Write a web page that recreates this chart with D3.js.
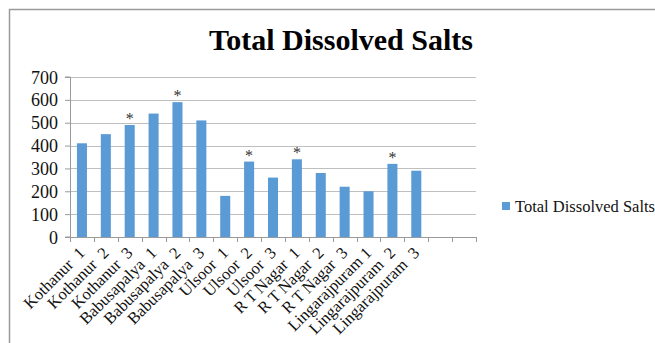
<!DOCTYPE html>
<html>
<head>
<meta charset="utf-8">
<script src="https://cdn.jsdelivr.net/npm/d3@7"></script>
<style>
  html, body { margin: 0; padding: 0; background: #fff; }
  svg { display: block; }
  svg text { font-family: "Liberation Serif", "Times New Roman", serif !important; }
</style>
</head>
<body>
<svg id="chart" width="655" height="343"></svg>
<script>
// Sampling sites (two trailing empty slots on the category axis)
const categories = [
  "Kothanur  1", "Kothanur  2", "Kothanur  3",
  "Babusapalya  1", "Babusapalya  2", "Babusapalya  3",
  "Ulsoor  1", "Ulsoor  2", "Ulsoor  3",
  "R T Nagar  1", "R T Nagar  2", "R T Nagar  3",
  "Lingarajpuram 1", "Lingarajpuram  2", "Lingarajpuram  3",
  "", " "
];
// Total dissolved salts per site
const tdsValues = [410, 450, 490, 540, 590, 510, 180, 330, 260, 340, 280, 220, 200, 320, 290];
// Sites flagged with an asterisk
const flagged = ["Kothanur  3", "Babusapalya  2", "Ulsoor  2", "R T Nagar  1", "Lingarajpuram  2"];
const yTicks = [0, 100, 200, 300, 400, 500, 600, 700];
const seriesName = "Total Dissolved Salts";
const chartTitle = "Total Dissolved Salts";

const FONT = "'Liberation Serif', 'Times New Roman', serif";
const svg = d3.select("#chart");
const margin = { left: 70, right: 179, top: 77, bottom: 106 };
const W = 655, H = 343;
const plotW = W - margin.left - margin.right;
const plotH = H - margin.top - margin.bottom;

// Outer frame
svg.append("rect")
  .attr("x", 9.5).attr("y", 9.5)
  .attr("width", 700).attr("height", 400)
  .attr("fill", "none").attr("stroke", "#9a9a9a").attr("stroke-width", 1.5);

const x = d3.scaleBand().domain(categories).range([0, plotW]).paddingInner(0.58).paddingOuter(0.29);
const y = d3.scaleLinear().domain([0, 700]).range([plotH, 0]);

const g = svg.append("g").attr("transform", `translate(${margin.left},${margin.top})`);

// Horizontal gridlines
g.selectAll("line.grid").data(yTicks.filter(d => d > 0)).join("line")
  .attr("class", "grid")
  .attr("x1", 0).attr("x2", plotW)
  .attr("y1", d => Math.round(y(d)) + 0.5).attr("y2", d => Math.round(y(d)) + 0.5)
  .attr("stroke", "#bfbfbf").attr("stroke-width", 1);

// Bars
g.selectAll("rect.bar").data(tdsValues).join("rect")
  .attr("class", "bar")
  .attr("x", (d, i) => x(categories[i]))
  .attr("width", x.bandwidth())
  .attr("y", d => y(d))
  .attr("height", d => plotH - y(d))
  .attr("fill", "#5b9bd5");

// Asterisks above flagged bars
g.selectAll("text.star").data(tdsValues.map((v, i) => ({ v, c: categories[i] })).filter(d => flagged.includes(d.c)))
  .join("text")
  .attr("class", "star")
  .attr("x", d => x(d.c) + x.bandwidth() / 2)
  .attr("y", d => y(d.v) - 1)
  .attr("text-anchor", "middle")
  .attr("font-size", 16)
  .attr("fill", "#333")
  .text("*");

// Y axis
const yAxis = g.append("g")
  .call(d3.axisLeft(y).tickValues(yTicks).tickSize(5).tickPadding(7).tickFormat(d3.format("d")));
yAxis.attr("font-family", FONT).attr("font-size", 18);
yAxis.select(".domain").attr("stroke", "#9a9a9a").attr("d", `M-5,${plotH}H0.5V0H-5`);
yAxis.selectAll(".tick line").attr("stroke", "#9a9a9a");
yAxis.selectAll(".tick text").attr("font-size", 18).attr("fill", "#111").attr("dy", "0.34em");

// X axis: ticks between categories
const xg = g.append("g").attr("transform", `translate(0,${plotH})`);
xg.append("line").attr("x1", 0).attr("x2", plotW).attr("y1", 0.5).attr("y2", 0.5).attr("stroke", "#9a9a9a");
const boundaries = d3.range(categories.length + 1).map(i => i * plotW / categories.length);
xg.selectAll("line.xt").data(boundaries).join("line")
  .attr("class", "xt")
  .attr("x1", d => Math.round(d) + 0.5).attr("x2", d => Math.round(d) + 0.5)
  .attr("y1", 0).attr("y2", 5)
  .attr("stroke", "#9a9a9a");

xg.selectAll("text.xl").data(categories.filter(c => c.trim() !== "")).join("text")
  .attr("class", "xl")
  .attr("transform", c => `translate(${x(c) + x.bandwidth() / 2 + 4},${17}) rotate(-45)`)
  .attr("text-anchor", "end")
  .attr("font-family", FONT)
  .attr("font-size", 16.5)
  .attr("fill", "#111")
  .style("white-space", "pre")
  .text(c => c);

// Title
svg.append("text")
  .attr("x", 341).attr("y", 50)
  .attr("text-anchor", "middle")
  .attr("font-family", FONT)
  .attr("font-size", 30).attr("font-weight", "bold")
  .attr("fill", "#000")
  .text(chartTitle);

// Legend
const lg = svg.append("g").attr("transform", "translate(502,202)");
lg.append("rect").attr("x", 0).attr("y", 0).attr("width", 8).attr("height", 8).attr("fill", "#5b9bd5");
lg.append("text").attr("x", 13).attr("y", 10).attr("font-family", FONT)
  .attr("font-size", 16.5).attr("fill", "#111").text(seriesName);
</script>
</body>
</html>
